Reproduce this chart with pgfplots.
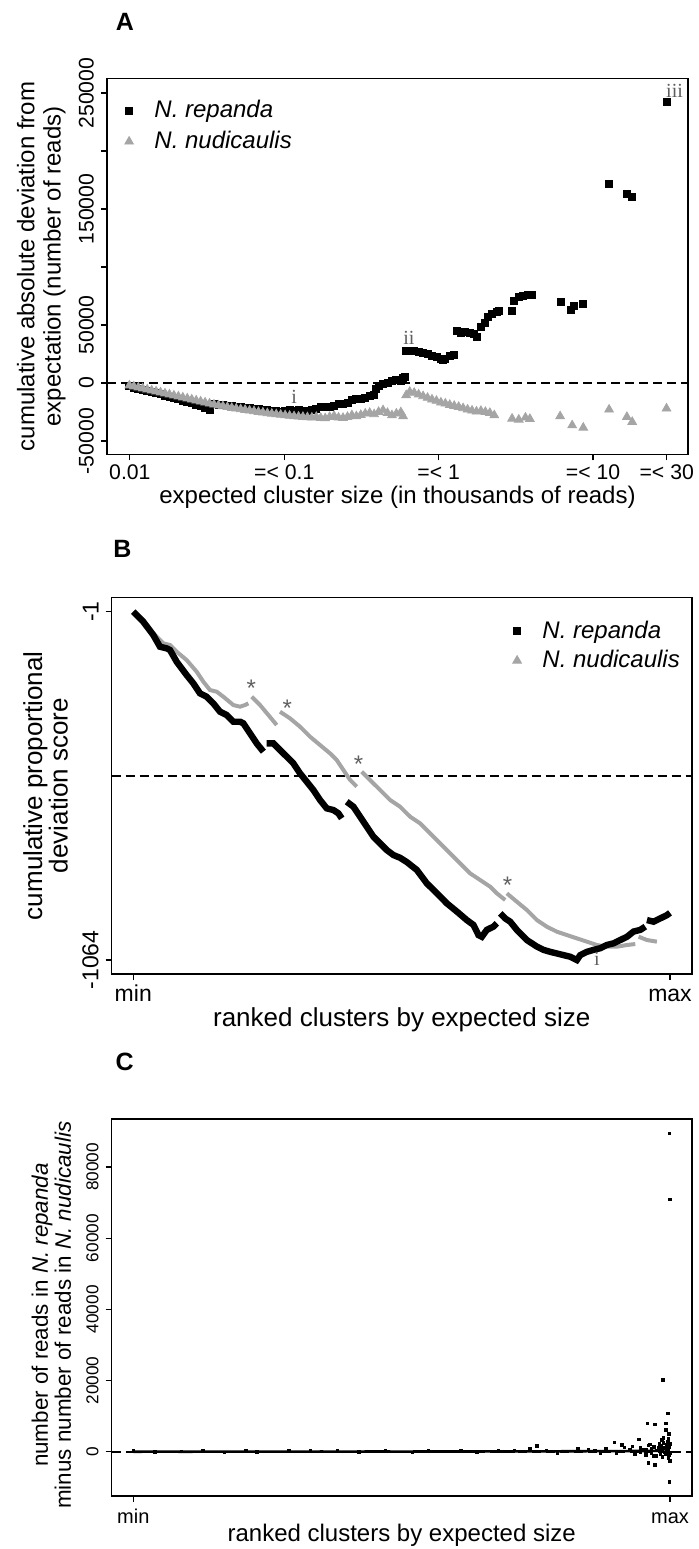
\documentclass[border=0pt]{standalone}
\usepackage{fontspec}
\setmainfont{Liberation Sans}
\newfontfamily\annfont{Liberation Serif}
\usepackage{pgfplots}
\pgfplotsset{compat=1.18}
\definecolor{rgray}{RGB}{165,165,165}
\definecolor{anngray}{RGB}{95,95,95}
\pgfplotsset{
  rbox/.style={
    scale only axis,
    axis line style={line width=0.8pt},
    tick style={black, line width=0.6pt},
    tick align=outside, major tick length=3pt, tick pos=left,
    xminorticks=false, yminorticks=false,
    scaled ticks=false,
    yticklabel style={rotate=90, anchor=south},
    legend cell align=left,
  },
}
\begin{document}
\begin{tikzpicture}
\path[use as bounding box] (0,0) rectangle (349pt,-774.5pt);
% ---------------- Panel A ----------------
\node[font=\bfseries\fontsize{12.5}{12.5}\selectfont] at (62.4pt,-10.8pt) {A};
\begin{axis}[rbox,
  at={(53.5pt,-227.2pt)}, anchor=south west,
  width=290.5pt, height=188pt,
  xmode=log, xmin=0.00711, xmax=41.2,
  ymin=-61490, ymax=262640,
  xtick={0.01,0.1,1,10,30},
  xticklabels={0.01,{=< 0.1},{=< 1},{=< 10},{=< 30}},
  ytick={-50000,0,50000,100000,150000,200000,250000},
  yticklabels={-50000,0,50000,{},150000,{},250000},
  tick label style={font=\fontsize{10.6}{12}\selectfont},
  xticklabel style={yshift=1pt, text height=0.716em, text depth=0pt},
  xlabel={expected cluster size (in thousands of reads)},
  xlabel style={at={(axis description cs:0.5,-0.113)}, anchor=center, font=\fontsize{12}{13}\selectfont},
  ylabel={cumulative absolute deviation from\\expectation (number of reads)},
  ylabel style={at={(axis description cs:-0.113,0.5)}, anchor=center, align=center, font=\fontsize{12}{13.2}\selectfont},
  legend style={at={(axis description cs:0.0265,0.958)}, anchor=north west, draw=none, fill=none,
    font=\fontsize{12}{14}\selectfont\itshape, row sep=1.2pt, inner sep=1pt,
    /tikz/every odd column/.append style={column sep=8.5pt}},
]
\addlegendimage{only marks, mark=square*, mark size=1.8pt, black}
\addlegendentry{N. repanda}
\addlegendimage{only marks, mark=triangle*, mark size=2.5pt, rgray}
\addlegendentry{N. nudicaulis}
\addplot[black, dashed, dash pattern=on 4.5pt off 2.5pt, line width=0.8pt, forget plot] coordinates {(0.00711,0) (41.2,0)};
% N. repanda
\addplot[only marks, mark=square*, mark size=1.75pt, black, forget plot] coordinates {
(0.00993,-2600) (0.01061,-3755) (0.01134,-4910) (0.01212,-5777) (0.01295,-6932) (0.01384,-7799)
(0.01479,-8666) (0.01580,-9532) (0.01689,-10687) (0.01805,-11843) (0.01929,-12709) (0.02062,-13865)
(0.02203,-15020) (0.02354,-16176) (0.02516,-17331) (0.02689,-18486) (0.02873,-19931) (0.03070,-21375)
(0.03281,-23108) (0.03506,-18198) (0.03746,-18631) (0.04004,-19064) (0.04277,-19498) (0.04571,-19931)
(0.04884,-20364) (0.05220,-20797) (0.05577,-21231) (0.05960,-21664) (0.06368,-22097) (0.06805,-22530)
(0.07271,-22964) (0.07771,-23397) (0.08303,-23830) (0.08873,-24263) (0.09175,-24552) (0.09803,-25130)
(0.1013,-24263) (0.1083,-23397) (0.1157,-23975) (0.1237,-22819) (0.1321,-23686) (0.1412,-24263)
(0.1509,-23397) (0.1613,-22241) (0.1723,-20508) (0.1841,-20220) (0.1967,-20797) (0.2102,-19353)
(0.2247,-18198) (0.2401,-17620) (0.2566,-17331) (0.2742,-14731) (0.2930,-13865) (0.3131,-13287)
(0.3346,-12421) (0.3575,-11265) (0.3820,-10399) (0.3949,-4622) (0.4083,-2600) (0.4363,-289)
(0.4662,578) (0.4982,2022) (0.5323,2600) (0.5689,2022) (0.5881,4044) (0.5999,5488)
(0.6161,28018) (0.6498,28018) (0.6943,27441) (0.7419,27152) (0.7928,26285) (0.8472,25130)
(0.9053,23397) (0.9674,22241) (1.034,20508) (1.069,19931) (1.105,20797) (1.180,23108) (1.261,24263)
(1.304,45061) (1.393,43039) (1.489,44483) (1.591,43039) (1.700,42461) (1.781,39572)
(1.878,48816) (1.981,51704) (2.075,57481) (2.217,59792) (2.369,61236) (2.449,61814)
(2.989,61814) (3.090,70479) (3.302,74234) (3.528,75390) (3.770,76257) (4.029,76257)
(6.201,69613) (7.177,63258) (7.568,66147) (8.642,68169)
(12.70,171600) (16.56,163500) (17.93,160100) (29.90,242200)
};
% N. nudicaulis
\addplot[only marks, mark=triangle*, mark size=2.5pt, rgray, forget plot] coordinates {
(0.00993,-2022) (0.01061,-2889) (0.01134,-3755) (0.01212,-4622) (0.01295,-5488) (0.01384,-6355)
(0.01479,-7221) (0.01580,-8088) (0.01689,-8954) (0.01805,-9821) (0.01929,-10687) (0.02062,-11554)
(0.02203,-12421) (0.02354,-13287) (0.02516,-14154) (0.02689,-15020) (0.02873,-15887) (0.03070,-16753)
(0.03281,-17620) (0.03506,-18486) (0.03746,-19209) (0.04004,-19931) (0.04277,-20653) (0.04571,-21375)
(0.04884,-21953) (0.05220,-22530) (0.05577,-23108) (0.05960,-23686) (0.06368,-24263) (0.06805,-24841)
(0.07271,-25419) (0.07771,-25997) (0.08303,-26430) (0.08873,-26863) (0.09480,-27297) (0.1013,-27730)
(0.1083,-28163) (0.1157,-28596) (0.1237,-28885) (0.1321,-29174) (0.1412,-29463) (0.1509,-29752)
(0.1613,-29174) (0.1723,-30041) (0.1841,-30330) (0.1967,-29174) (0.2102,-28307) (0.2247,-29752)
(0.2401,-30041) (0.2566,-29174) (0.2742,-27730) (0.2930,-28596) (0.3131,-27441) (0.3346,-26286)
(0.3575,-25708) (0.3820,-26863) (0.4083,-24841) (0.4363,-23397) (0.4662,-25708) (0.4982,-27730)
(0.5323,-26286) (0.5689,-25130) (0.5881,-28596)
(0.6161,-10399) (0.6498,-7510) (0.6943,-8377) (0.7419,-9821) (0.7928,-11265) (0.8472,-12709)
(0.9053,-14154) (0.9674,-15309) (1.034,-16753) (1.105,-17620) (1.180,-18775) (1.261,-19642)
(1.348,-20508) (1.440,-21664) (1.539,-22819) (1.645,-23686) (1.758,-24552) (1.878,-23975)
(2.007,-24841) (2.145,-25708) (2.292,-27730)
(2.989,-30619) (3.302,-31485) (3.648,-29752) (3.898,-30908)
(6.119,-28596) (7.322,-36395) (8.642,-38417)
(12.70,-22819) (16.56,-29174) (17.93,-33507) (29.90,-21953)
};
\node[anngray, font=\annfont\fontsize{10}{10}\selectfont] at (axis cs:0.1157,-11843) {i};
\node[anngray, font=\annfont\fontsize{10}{10}\selectfont] at (axis cs:0.641,38706) {ii};
\node[anngray, font=\annfont\fontsize{10}{10}\selectfont] at (axis cs:33.7,251500) {iii};
\end{axis}
% ---------------- Panel B ----------------
\node[font=\bfseries\fontsize{12.5}{12.5}\selectfont] at (61.2pt,-274.2pt) {B};
\begin{axis}[rbox,
  at={(55.85pt,-487pt)}, anchor=south west,
  width=290pt, height=188.35pt,
  xmin=-0.0402, xmax=1.0404,
  ymin=-1106.7, ymax=42.9,
  xtick={0,1}, xticklabels={min,max},
  ytick={-1064,-1}, yticklabels={-1064,-1},
  tick label style={font=\fontsize{11.5}{13}\selectfont},
  xticklabel style={text height=0.716em, text depth=0pt},
  unbounded coords=jump,
  xlabel={ranked clusters by expected size},
  xlabel style={at={(axis description cs:0.5,-0.122)}, anchor=center, font=\fontsize{13}{14}\selectfont},
  ylabel={cumulative proportional\\deviation score},
  ylabel style={at={(axis description cs:-0.114,0.5)}, anchor=center, align=center, font=\fontsize{13}{12.8}\selectfont},
  legend style={at={(axis description cs:0.6874,0.9546)}, anchor=north west, draw=none, fill=none,
    font=\fontsize{12}{14}\selectfont\itshape, row sep=0.6pt, inner sep=1pt,
    /tikz/every odd column/.append style={column sep=8.5pt}},
]
\addlegendimage{only marks, mark=square*, mark size=1.8pt, black}
\addlegendentry{N. repanda}
\addlegendimage{only marks, mark=triangle*, mark size=2.5pt, rgray}
\addlegendentry{N. nudicaulis}
\addplot[black, dashed, dash pattern=on 4.5pt off 2.5pt, line width=0.8pt, forget plot] coordinates {(-0.0402,-502.5) (1.0404,-502.5)};
% N. nudicaulis
\addplot[rgray, line width=2pt, forget plot] coordinates {
(0,-1) (0.0186,-26.4) (0.0373,-67.1) (0.0559,-97.6) (0.0684,-102.7) (0.0808,-123.1) (0.0994,-148.5)
(0.1181,-184.1) (0.1305,-214.6) (0.1429,-240.0) (0.1554,-245.1) (0.1678,-260.4) (0.1864,-285.8)
(0.1989,-290.9) (0.2082,-285.8) (0.2144,-280.7) (0.2175,nan)
(0.2206,-260.4) (0.2361,-285.8) (0.2517,-316.3) (0.2672,-346.9) (0.27,nan)
(0.2734,-306.2) (0.2921,-326.5) (0.3107,-352.0) (0.3294,-382.5) (0.3480,-407.9) (0.3666,-433.3)
(0.3791,-453.7) (0.3915,-484.2) (0.4040,-514.7) (0.4164,-535.0) (0.42,nan)
(0.4257,-489.3) (0.4412,-514.7) (0.4599,-545.2) (0.4785,-575.7) (0.4971,-596.1) (0.5158,-626.6)
(0.5344,-646.9) (0.5531,-677.4) (0.5717,-708.0) (0.5903,-738.5) (0.6090,-769.0) (0.6276,-799.5)
(0.6463,-819.9) (0.6649,-840.2) (0.6774,-860.5) (0.6929,-880.9) (0.6945,nan)
(0.6960,-860.5) (0.7146,-886.0) (0.7333,-911.4) (0.7519,-941.9) (0.7705,-962.3) (0.7892,-977.5)
(0.8078,-987.7) (0.8265,-997.9) (0.8452,-1008.0) (0.8638,-1018.2) (0.8825,-1023.3) (0.9011,-1023.3)
(0.9198,-1018.2) (0.9353,-1015.2) (0.9384,nan)
(0.9415,-992.8) (0.9570,-1003.0) (0.9756,-1008.0)
};
% N. repanda
\addplot[black, line width=3.2pt, forget plot] coordinates {
(0,-1) (0.0186,-31.5) (0.0373,-72.2) (0.0497,-107.8) (0.0622,-112.9) (0.0684,-118.0) (0.0808,-153.6)
(0.0994,-194.3) (0.1119,-219.7) (0.1243,-250.2) (0.1367,-260.4) (0.1491,-280.7) (0.1616,-306.2)
(0.1740,-316.3) (0.1864,-336.7) (0.1989,-336.7) (0.2051,-341.8) (0.2175,-372.3) (0.2299,-402.8)
(0.2424,-428.2) (0.2455,nan)
(0.2486,-402.8) (0.2610,-402.8) (0.2734,-423.1) (0.2859,-443.5) (0.2983,-463.8) (0.3107,-494.3)
(0.3232,-519.8) (0.3356,-545.2) (0.3480,-575.7) (0.3604,-601.2) (0.3729,-606.3) (0.3822,-616.4)
(0.3884,-631.7) (0.393,nan)
(0.3977,-580.8) (0.4101,-596.1) (0.4226,-626.6) (0.4350,-657.1) (0.4474,-687.6) (0.4599,-708.0)
(0.4723,-728.3) (0.4847,-743.6) (0.4971,-752) (0.5096,-765) (0.5282,-789) (0.5469,-830)
(0.5655,-860) (0.5842,-891) (0.6028,-916) (0.6214,-942) (0.6339,-957) (0.6432,-988) (0.6494,-993)
(0.6587,-972) (0.6711,-962) (0.6774,-952) (0.68,nan)
(0.6836,-921.6) (0.6929,-937) (0.7022,-947) (0.7146,-972) (0.7333,-1003) (0.7519,-1023)
(0.7643,-1033) (0.7768,-1039) (0.7892,-1044) (0.8016,-1049) (0.8141,-1054) (0.8265,-1064)
(0.8327,-1049) (0.8452,-1039) (0.8576,-1033) (0.8700,-1028) (0.8825,-1018) (0.8949,-1013)
(0.9073,-1003) (0.9198,-993) (0.9322,-977) (0.9446,-972) (0.9539,-962) (0.9555,nan)
(0.9570,-942) (0.9694,-947) (0.9818,-937) (0.9943,-927) (1.0,-920)
};
\node[anngray, font=\fontsize{12}{12}\selectfont] at (axis cs:0.2197,-235) {*};
\node[anngray, font=\fontsize{12}{12}\selectfont] at (axis cs:0.2871,-296) {*};
\node[anngray, font=\fontsize{12}{12}\selectfont] at (axis cs:0.4195,-467) {*};
\node[anngray, font=\fontsize{12}{12}\selectfont] at (axis cs:0.6973,-835) {*};
\node[anngray, font=\annfont\fontsize{10}{10}\selectfont] at (axis cs:0.8638,-1062) {i};
\end{axis}
% ---------------- Panel C ----------------
\node[font=\bfseries\fontsize{12.5}{12.5}\selectfont] at (62.3pt,-530.8pt) {C};
\begin{axis}[rbox,
  at={(55.85pt,-748pt)}, anchor=south west,
  width=290pt, height=188.5pt,
  xmin=-0.0402, xmax=1.0404,
  ymin=-12444, ymax=93455,
  xtick={0,1}, xticklabels={min,max},
  ytick={0,20000,40000,60000,80000}, yticklabels={0,20000,40000,60000,80000},
  xticklabel style={font=\fontsize{10}{11}\selectfont, text height=0.716em, text depth=0pt},
  yticklabel style={font=\fontsize{8.6}{10}\selectfont},
  xlabel={ranked clusters by expected size},
  xlabel style={at={(axis description cs:0.5,-0.104)}, anchor=center, font=\fontsize{12}{13}\selectfont},
  ylabel={number of reads in \textit{N. repanda}\\minus number of reads in \textit{N. nudicaulis}},
  ylabel style={at={(axis description cs:-0.104,0.48)}, anchor=center, align=center, font=\fontsize{11.2}{7.8}\selectfont},
]
\addplot[black, dashed, dash pattern=on 4.5pt off 2.5pt, line width=0.8pt] coordinates {(-0.0402,0) (1.0404,0)};
\addplot[black, line width=1.3pt] coordinates {
(0,0) (0.05,20) (0.10,0) (0.15,30) (0.20,10) (0.25,40) (0.30,20) (0.35,50) (0.40,30) (0.45,60)
(0.50,40) (0.55,60) (0.60,50) (0.65,80) (0.70,70) (0.75,100) (0.80,120) (0.85,150) (0.90,180)
(0.95,200) (0.99,250)
};
\addplot[only marks, mark=square*, mark size=0.65pt, black] coordinates {
(0.0,150) (0.04,-100) (0.09,120) (0.13,200) (0.17,-150) (0.21,180) (0.23,-120) (0.29,220) (0.33,150)
(0.38,250) (0.42,-100) (0.47,300) (0.52,-150) (0.55,250) (0.61,350) (0.64,-200) (0.68,300) (0.71,400)
(0.7391,946) (0.7516,1694) (0.77,350) (0.79,-300) (0.8280,946) (0.8478,665) (0.86,400) (0.87,-500)
(0.8963,2632) (0.9100,1975) (0.9416,3474) (0.9578,7969) (0.9596,-3081) (0.9627,2080) (0.9690,-1200)
(0.9721,7688) (0.9721,-3736) (0.9845,3287) (0.9863,20140) (0.9876,3941) (0.9919,7969) (0.9919,6096)
(0.9957,10778) (0.9969,3755) (0.9981,4972) (0.9988,89430) (1.0,70890) (1.0,-2520) (0.9988,-8427)
(0.88,800) (0.90,-400) (0.915,1200) (0.925,600) (0.93,1500) (0.935,-700) (0.945,1100) (0.95,600)
(0.955,-900) (0.96,1800) (0.965,900) (0.97,1400) (0.975,-1100) (0.978,1000) (0.98,2200) (0.983,1600)
(0.986,-1500) (0.988,2500) (0.99,1000) (0.992,-600) (0.994,1900) (0.996,2800) (0.997,-1800)
(0.998,1200) (0.999,-1000) (1.0,2200) (0.993,500) (0.997,300) (1.0,-400) (0.985,700) (0.975,400)
(0.965,-300) (0.955,500) (0.945,-200) (0.99,-200) (0.995,1300) (0.982,-800)
};
\end{axis}
\end{tikzpicture}
\end{document}
